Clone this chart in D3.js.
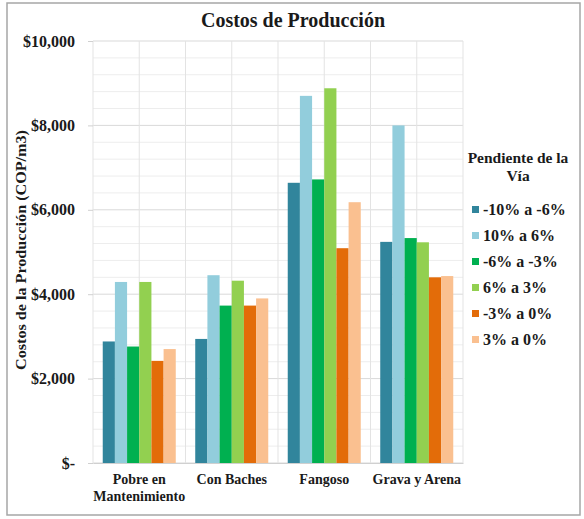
<!DOCTYPE html>
<html>
<head>
<meta charset="utf-8">
<script src="https://cdnjs.cloudflare.com/ajax/libs/d3/7.8.5/d3.min.js"></script>
<style>
  body { margin: 0; background: #fff; }
  svg text { font-family: "Liberation Serif", "DejaVu Serif", "Times New Roman", Times, serif !important; font-weight: bold; fill: #1a1a1a; }
</style>
</head>
<body>
<div id="chart"></div>
<script>
const categories = ["Pobre en Mantenimiento", "Con Baches", "Fangoso", "Grava y Arena"];
const seriesNames = ["-10% a -6%", "10% a 6%", "-6% a -3%", "6% a 3%", "-3% a 0%", "3% a 0%"];
const seriesColors = ["#31859C", "#92CDDC", "#00B050", "#92D050", "#E36C09", "#FAC090"];
// values per series, one per category
const neg10to6 = [2880, 2940, 6640, 5240];
const pos10to6 = [4290, 4450, 8700, 8000];
const neg6to3 = [2760, 3730, 6720, 5330];
const pos6to3 = [4290, 4320, 8880, 5230];
const neg3to0 = [2420, 3730, 5090, 4400];
const pos3to0 = [2700, 3900, 6180, 4430];
const yTicks = [0, 2000, 4000, 6000, 8000, 10000];

const seriesValues = [neg10to6, pos10to6, neg6to3, pos6to3, neg3to0, pos3to0];

const W = 584, H = 519;
const margin = { top: 41, right: 121, bottom: 56, left: 93 };

const svg = d3.select("#chart").append("svg")
  .attr("width", W)
  .attr("height", H);

// outer frame
svg.append("rect")
  .attr("x", 7).attr("y", 3)
  .attr("width", 573).attr("height", 512)
  .attr("fill", "#fff")
  .attr("stroke", "#a6a6a6")
  .attr("stroke-width", 1.5);

const x0 = d3.scaleBand()
  .domain(categories)
  .range([margin.left, W - margin.right])
  .paddingInner(0).paddingOuter(0);

const x1 = d3.scaleBand()
  .domain(seriesNames)
  .range([0, x0.bandwidth()])
  .paddingInner(0).paddingOuter(0.8);

const y = d3.scaleLinear()
  .domain([0, 10000])
  .range([H - margin.bottom, margin.top]);

// horizontal grid, minor every 400
svg.append("g")
  .selectAll("line")
  .data(d3.range(0, 10001, 400))
  .enter().append("line")
  .attr("x1", margin.left).attr("x2", W - margin.right)
  .attr("y1", d => y(d)).attr("y2", d => y(d))
  .attr("stroke", d => d % 2000 === 0 ? "#d9d9d9" : "#ededed")
  .attr("stroke-width", 1);

// vertical grid: category edges and centres
const vLines = [];
categories.forEach(c => { vLines.push(x0(c)); vLines.push(x0(c) + x0.bandwidth() / 2); });
vLines.push(W - margin.right);
svg.append("g")
  .selectAll("line")
  .data(vLines)
  .enter().append("line")
  .attr("x1", d => d).attr("x2", d => d)
  .attr("y1", margin.top).attr("y2", H - margin.bottom)
  .attr("stroke", "#e3e3e3")
  .attr("stroke-width", 1);

// bars
const barData = [];
categories.forEach((c, ci) => {
  seriesNames.forEach((s, si) => {
    barData.push({ cat: c, series: s, value: seriesValues[si][ci], color: seriesColors[si] });
  });
});

svg.append("g")
  .selectAll("rect")
  .data(barData)
  .enter().append("rect")
  .attr("x", d => x0(d.cat) + x1(d.series))
  .attr("y", d => y(d.value))
  .attr("width", x1.bandwidth())
  .attr("height", d => y(0) - y(d.value))
  .attr("fill", d => d.color);

// y axis
const fmt = d => d === 0 ? "$-" : "$" + d3.format(",")(d);
const yAxis = svg.append("g")
  .attr("transform", `translate(${margin.left},0)`)
  .call(d3.axisLeft(y).tickValues(yTicks).tickFormat(fmt).tickSize(5).tickPadding(13));
yAxis.attr("font-family", null);
yAxis.select(".domain").remove();
yAxis.selectAll(".tick line").attr("stroke", "#d0d0d0");
yAxis.selectAll(".tick text")
  .style("font-size", "16px")
  .attr("fill", "#1a1a1a");

// x axis
const xAxis = svg.append("g")
  .attr("transform", `translate(0,${H - margin.bottom})`)
  .call(d3.axisBottom(x0).tickSize(0).tickFormat(""));
xAxis.select(".domain").attr("stroke", "#d0d0d0");

const xLabelLines = {
  "Pobre en Mantenimiento": ["Pobre en", "Mantenimiento"],
  "Con Baches": ["Con Baches"],
  "Fangoso": ["Fangoso"],
  "Grava y Arena": ["Grava y Arena"]
};
categories.forEach(c => {
  const t = svg.append("text")
    .attr("x", x0(c) + x0.bandwidth() / 2)
    .attr("y", 484)
    .attr("text-anchor", "middle")
    .style("font-size", "14px");
  xLabelLines[c].forEach((ln, i) => {
    t.append("tspan")
      .attr("x", x0(c) + x0.bandwidth() / 2)
      .attr("dy", i === 0 ? 0 : 17)
      .text(ln);
  });
});

// title
svg.append("text")
  .attr("x", 293)
  .attr("y", 27)
  .attr("text-anchor", "middle")
  .style("font-size", "20px")
  .text("Costos de Producción");

// y axis title
svg.append("text")
  .attr("transform", "translate(26,250) rotate(-90)")
  .attr("text-anchor", "middle")
  .attr("textLength", 240)
  .attr("lengthAdjust", "spacingAndGlyphs")
  .style("font-size", "15.5px")
  .text("Costos de la Producción (COP/m3)");

// legend
const lg = svg.append("g");
lg.append("text")
  .attr("x", 518).attr("y", 163)
  .attr("text-anchor", "middle")
  .style("font-size", "15.5px")
  .text("Pendiente de la");
lg.append("text")
  .attr("x", 518).attr("y", 181)
  .attr("text-anchor", "middle")
  .style("font-size", "15.5px")
  .text("Vía");

const legendY = d3.scalePoint()
  .domain(seriesNames)
  .range([210, 340]);

const items = lg.selectAll("g.item")
  .data(seriesNames)
  .enter().append("g")
  .attr("class", "item")
  .attr("transform", d => `translate(472,${legendY(d)})`);
items.append("rect")
  .attr("x", 0).attr("y", -4)
  .attr("width", 7).attr("height", 7)
  .attr("fill", (d, i) => seriesColors[i]);
items.append("text")
  .attr("x", 11).attr("y", 5)
  .style("font-size", "16px")
  .text(d => d);
</script>
</body>
</html>
